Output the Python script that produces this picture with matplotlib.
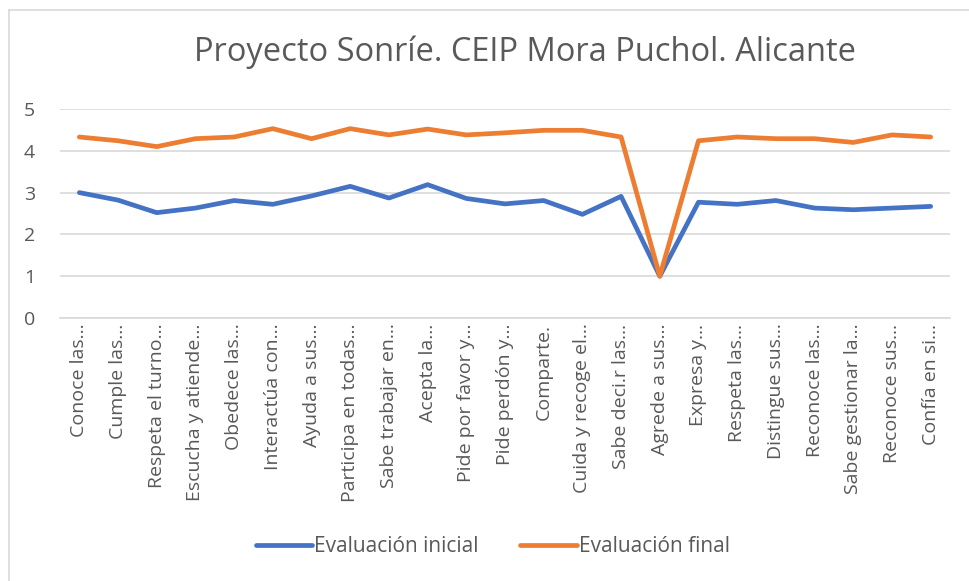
import matplotlib.pyplot as plt
from matplotlib.lines import Line2D

plt.rcParams['font.family'] = ['Open Sans', 'DejaVu Sans']

categorias = ["Conoce las…", "Cumple las…", "Respeta el turno…", "Escucha y atiende…",
              "Obedece las…", "Interactúa con…", "Ayuda a sus…", "Participa en todas…",
              "Sabe trabajar en…", "Acepta la…", "Pide por favor y…", "Pide perdón y…",
              "Comparte.", "Cuida y recoge el…", "Sabe deci.r las…", "Agrede a sus…",
              "Expresa y…", "Respeta las…", "Distingue sus…", "Reconoce las…",
              "Sabe gestionar la…", "Reconoce sus…", "Confía en si…"]

inicial = [3.0, 2.82, 2.52, 2.63, 2.81, 2.72, 2.92, 3.15, 2.87, 3.19, 2.86, 2.73,
           2.81, 2.48, 2.91, 1.0, 2.77, 2.72, 2.81, 2.63, 2.59, 2.63, 2.67]
final = [4.33, 4.24, 4.1, 4.29, 4.33, 4.53, 4.29, 4.53, 4.38, 4.52, 4.38, 4.43,
         4.49, 4.49, 4.33, 1.0, 4.24, 4.33, 4.29, 4.29, 4.2, 4.38, 4.33]

gris = '#595959'
fig = plt.figure(figsize=(9.7, 5.81), dpi=100)
ax = fig.add_axes([60/970, 1-318/581, 890/970, 209/581])

x = range(len(categorias))
ax.plot(x, inicial, color='#4472C4', linewidth=3.4, solid_capstyle='round',
        solid_joinstyle='round', label='Evaluación inicial')
ax.plot(x, final, color='#ED7D31', linewidth=3.4, solid_capstyle='round',
        solid_joinstyle='round', label='Evaluación final')

ax.set_xlim(-0.5, len(categorias) - 0.5)
ax.set_ylim(0, 5)
ax.set_yticks(range(6))
ax.yaxis.grid(True, color='#D9D9D9', linewidth=1.2)
ax.set_axisbelow(True)
for s in ['top', 'right', 'left']:
    ax.spines[s].set_visible(False)
ax.spines['bottom'].set_color('#D9D9D9')
ax.spines['bottom'].set_linewidth(1.2)
ax.tick_params(length=0, labelsize=14, labelcolor=gris)
ax.tick_params(axis='y', pad=18)
ax.tick_params(axis='x', pad=4)
ax.set_xticks(list(x))
ax.set_xticklabels(categorias, rotation=90, va='top', ha='center')

fig.text(0.541, 1-52/581, 'Proyecto Sonríe. CEIP Mora Puchol. Alicante',
         ha='center', va='center', fontsize=23.5, color=gris)

fig.legend(loc='center', bbox_to_anchor=(0.508, 1-547/581), ncol=2, frameon=False,
           fontsize=15, labelcolor=gris, handlelength=2.7, handletextpad=0.1,
           columnspacing=2.0)

fig.add_artist(Line2D([9/970, 9/970], [0, 1-10/581], color='#D9D9D9', linewidth=1.2))
fig.add_artist(Line2D([9/970, 1], [1-10/581, 1-10/581], color='#D9D9D9', linewidth=1.2))

fig.savefig('out.png', dpi=100)
